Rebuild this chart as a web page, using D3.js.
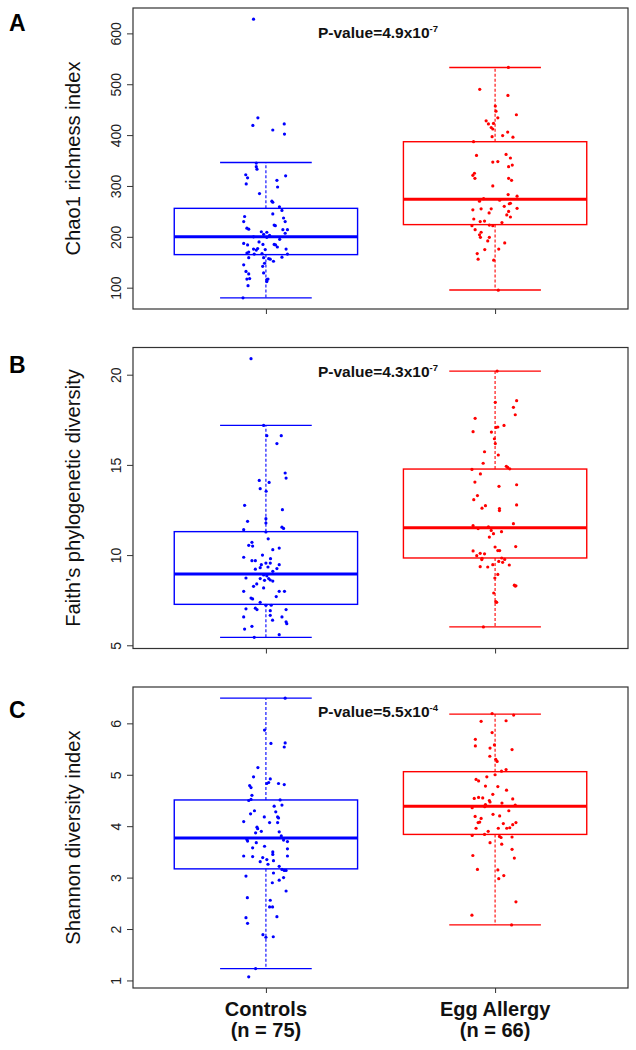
<!DOCTYPE html>
<html>
<head>
<meta charset="utf-8">
<script src="https://cdn.jsdelivr.net/npm/d3@7"></script>
<style>
  html, body { margin: 0; padding: 0; background: #fff; }
  svg { display: block; font-family: Arial, "Liberation Sans", sans-serif; }
</style>
</head>
<body>
<svg id="chart" width="636" height="1050"></svg>
<script>
// ---------------- DATA ----------------
const groups = ["Controls", "Egg Allergy"];
const groupCounts = ["(n = 75)", "(n = 66)"];
const panelLetters = ["A", "B", "C"];
const yTitles = ["Chao1 richness index", "Faith\u2019s phylogenetic diversity", "Shannon diversity index"];
const pMantissa = ["4.9", "4.3", "5.5"];
const pExponent = ["-7", "-7", "-4"];
const yTicksA = [100, 200, 300, 400, 500, 600];
const yTicksB = [5, 10, 15, 20];
const yTicksC = [1, 2, 3, 4, 5, 6];

// box stats: [lower whisker, Q1, median, Q3, upper whisker]
const statsAControls = [80, 165, 200, 256, 346];
const statsAEgg = [95.5, 224, 274, 387, 533];
const statsBControls = [5.44, 7.27, 8.95, 11.30, 17.19];
const statsBEgg = [6.02, 9.84, 11.52, 14.77, 20.2];
const statsCControls = [1.23, 3.17, 3.77, 4.51, 6.49];
const statsCEgg = [2.08, 3.84, 4.39, 5.06, 6.18];

// points: [value, jitter (x offset in category units)]
const chaoControls = [
  [628,-0.054],[434,-0.035],[419,-0.057],[422,0.080],[410,0.030],[402,0.081],[345,-0.042],[338,-0.042],
  [333,-0.039],[322,-0.088],[316,-0.080],[320,0.086],[304,-0.086],[311,0.048],[298,0.051],[285,-0.028],
  [270,0.026],[268,0.030],[259,0.059],[252,0.070],[245,0.030],[240,-0.093],[230,-0.097],[237,0.077],
  [230,0.084],[222,0.041],[223,0.036],[217,-0.083],[215,-0.075],[214,0.074],[214,0.094],[207,0.084],
  [209,0.004],[205,-0.010],[203,0.016],[200,-0.054],[199,0.004],[187,-0.097],[184,-0.080],[185,-0.013],
  [185,0.036],[184,0.042],[176,-0.054],[177,-0.036],[174,-0.042],[175,-0.003],[170,-0.075],[176,0.088],
  [166,0.094],[168,-0.083],[166,-0.051],[167,-0.017],[159,-0.075],[159,-0.010],[156,0.019],[157,0.012],
  [152,0.033],[145,-0.097],[142,-0.014],[148,-0.006],[132,-0.087],[127,-0.075],[129,-0.010],[118,-0.071],
  [117,-0.083],[117,0.009],[116,0.004],[112,0.004],[104,-0.078],[80,-0.100],[195,0.060],[190,-0.030],
  [180,0.050],[210,-0.020],[160,0.070]
];
const chaoEgg = [
  [533,0.058],[490,-0.067],[478,0.056],[457,0.001],[447,0.004],[440,0.093],[428,-0.039],[434,0.012],
  [422,-0.029],[423,-0.007],[415,-0.017],[412,-0.010],[406,0.055],[397,-0.013],[399,0.033],[396,0.078],
  [387,-0.094],[360,-0.081],[362,0.048],[355,0.067],[347,-0.010],[348,0.012],[341,0.075],[338,0.059],
  [325,-0.090],[321,-0.097],[315,-0.088],[315,0.059],[311,0.072],[283,0.057],[280,0.096],[270,-0.068],
  [266,0.067],[265,0.062],[253,-0.097],[255,-0.061],[255,-0.017],[247,-0.026],[256,0.096],[250,0.059],
  [243,0.051],[239,0.067],[235,-0.093],[230,-0.065],[231,-0.046],[223,-0.025],[222,-0.010],[222,-0.101],
  [214,-0.087],[209,-0.061],[204,-0.068],[199,-0.025],[199,-0.064],[192,-0.032],[188,0.042],[176,0.016],
  [175,-0.045],[167,-0.078],[156,-0.074],[154,-0.006],[95,0.014],[275,-0.050],[272,0.020],[228,0.030],
  [300,-0.010],[260,0.040]
];
const faithControls = [
  [20.89,-0.065],[17.19,-0.010],[16.62,0.004],[16.62,0.067],[16.18,0.048],[14.14,-0.029],[13.68,-0.025],[14.03,0.014],
  [13.54,0.001],[14.55,0.084],[14.27,0.088],[12.76,-0.093],[12.52,0.072],[11.87,-0.080],[12.02,0.000],[11.78,0.000],
  [11.41,-0.097],[11.55,0.070],[11.48,0.077],[11.28,0.000],[10.71,-0.061],[10.54,-0.075],[10.50,-0.058],[10.39,0.058],
  [10.30,0.030],[9.88,-0.097],[9.69,-0.061],[9.69,-0.046],[9.56,0.000],[9.56,0.019],[9.47,-0.020],[9.47,0.058],
  [9.30,-0.025],[9.22,-0.046],[9.25,0.048],[9.34,0.009],[8.90,-0.010],[8.85,0.004],[8.73,-0.087],[8.70,-0.025],
  [8.70,0.012],[8.62,0.019],[8.60,-0.006],[8.56,0.030],[8.27,-0.054],[8.18,-0.010],[7.99,-0.097],[7.99,0.058],
  [7.99,0.081],[7.62,-0.065],[7.57,-0.058],[7.38,-0.025],[7.22,0.000],[7.22,0.023],[7.02,-0.087],[7.06,-0.046],
  [6.98,-0.039],[6.92,0.019],[6.98,0.088],[6.66,0.019],[6.57,-0.097],[6.57,0.070],[6.39,0.029],[6.30,0.088],
  [6.20,0.091],[6.05,-0.061],[5.90,-0.093],[5.59,0.058],[5.44,-0.051],[9.10,0.030],[8.40,-0.040],[9.80,0.020],
  [10.00,-0.015],[7.70,0.045],[10.90,0.010]
];
const faithEgg = [
  [20.20,0.009],[18.56,0.094],[18.19,0.080],[17.78,0.088],[18.47,0.001],[17.58,-0.087],[17.19,0.039],[17.08,0.004],
  [17.10,0.012],[16.84,-0.096],[16.82,-0.016],[16.45,-0.003],[16.18,0.001],[15.73,-0.046],[15.55,0.014],[15.09,-0.052],
  [14.92,0.049],[14.86,0.055],[14.78,0.064],[14.75,-0.101],[14.50,-0.064],[14.05,-0.088],[13.81,0.017],[13.90,0.094],
  [13.30,-0.077],[13.07,-0.093],[12.74,-0.042],[12.60,-0.057],[12.58,0.019],[12.47,0.019],[12.78,0.094],[11.74,0.080],
  [11.63,-0.096],[11.47,-0.074],[11.56,-0.029],[11.37,-0.017],[11.30,0.028],[11.19,-0.007],[11.00,-0.025],[10.47,0.090],
  [10.45,0.000],[10.25,0.012],[10.25,0.020],[10.23,-0.096],[10.10,-0.065],[10.07,-0.046],[9.97,-0.080],[9.82,-0.057],
  [9.75,-0.058],[9.84,0.029],[9.76,0.042],[9.65,0.016],[9.60,0.033],[9.45,0.062],[9.36,-0.065],[9.34,-0.032],
  [9.47,-0.010],[8.93,0.012],[8.73,-0.001],[8.33,0.084],[8.28,0.088],[8.30,0.091],[7.90,-0.006],[7.42,0.003],
  [7.38,0.007],[6.02,-0.051]
];
const shannonControls = [
  [6.49,0.084],[5.87,-0.006],[5.61,0.022],[5.62,0.084],[5.54,0.080],[5.14,-0.035],[4.96,-0.054],[4.79,-0.071],
  [4.75,-0.065],[4.92,0.019],[4.85,0.012],[4.83,0.055],[4.81,0.080],[4.83,0.004],[4.60,-0.061],[4.50,-0.075],
  [4.52,-0.065],[4.51,0.062],[4.41,0.070],[4.39,0.036],[4.28,0.043],[4.18,0.051],[4.16,0.055],[4.24,-0.067],
  [4.18,-0.007],[4.07,0.016],[4.09,-0.097],[4.07,0.051],[3.98,-0.039],[3.95,-0.036],[3.87,-0.045],[3.89,0.058],
  [3.81,0.067],[3.74,-0.083],[3.71,-0.080],[3.73,0.077],[3.70,0.094],[3.68,-0.042],[3.61,-0.006],[3.58,-0.058],
  [3.56,0.094],[3.42,-0.097],[3.41,-0.058],[3.45,0.030],[3.42,0.094],[3.39,-0.014],[3.31,-0.025],[3.35,0.004],
  [3.33,0.033],[3.26,0.009],[3.22,0.058],[3.16,0.070],[3.14,0.080],[3.14,0.088],[3.09,0.033],[3.03,-0.087],
  [3.00,0.077],[2.95,0.058],[2.90,0.028],[2.74,0.088],[2.61,-0.081],[2.56,0.019],[2.43,0.029],[2.43,0.016],
  [2.24,0.048],[2.22,-0.087],[2.11,-0.080],[1.89,-0.013],[1.84,0.000],[1.85,0.032],[1.23,-0.045],[1.07,-0.075],
  [3.50,0.030],[3.90,-0.020],[4.30,-0.050]
];
const shannonEgg = [
  [6.19,-0.013],[6.16,0.081],[6.04,-0.061],[6.05,0.048],[5.82,-0.013],[5.69,-0.086],[5.56,-0.086],[5.58,-0.003],
  [5.52,-0.022],[5.49,0.074],[5.36,-0.023],[5.30,0.003],[5.26,0.009],[5.07,0.028],[5.10,0.048],[4.96,-0.036],
  [4.91,-0.083],[4.88,-0.072],[4.78,-0.042],[4.77,0.012],[4.54,-0.091],[4.56,-0.072],[4.55,-0.054],[4.53,0.077],
  [4.50,-0.025],[4.47,-0.022],[4.42,-0.042],[4.41,0.088],[4.36,-0.100],[4.38,-0.045],[4.23,-0.009],[4.19,-0.087],
  [4.15,-0.061],[4.07,-0.074],[4.08,-0.067],[4.07,0.091],[4.03,0.077],[3.97,0.064],[3.96,0.051],[4.05,0.036],
  [3.96,0.014],[3.96,-0.083],[3.82,-0.100],[3.84,-0.046],[3.80,0.019],[3.78,0.026],[3.79,0.074],[3.68,-0.022],
  [3.65,0.029],[3.55,0.074],[3.43,-0.097],[3.38,0.084],[3.16,-0.077],[3.15,0.012],[3.04,0.038],[2.98,0.016],
  [2.53,0.091],[2.27,-0.101],[2.08,0.072],[4.45,0.030],[4.62,-0.010],[4.30,0.060],[4.20,0.020],[3.90,-0.030],
  [4.70,0.050],[5.00,0.000]
];

const panels = [
  { ticks: yTicksA, stats: [statsAControls, statsAEgg], pts: [chaoControls, chaoEgg] },
  { ticks: yTicksB, stats: [statsBControls, statsBEgg], pts: [faithControls, faithEgg] },
  { ticks: yTicksC, stats: [statsCControls, statsCEgg], pts: [shannonControls, shannonEgg] }
];
const colors = ["#0000ff", "#ff0000"];

// ---------------- LAYOUT ----------------
const svg = d3.select("#chart");
const frameLeft = 133, frameRight = 628, frameH = 301;
const panelTops = [8, 347.5, 687];
const x = d3.scaleLinear().domain([0.42, 2.58]).range([frameLeft, frameRight]);
const boxHalf = 0.4, capHalf = 0.2;

panels.forEach((p, i) => {
  const top = panelTops[i], bottom = top + frameH;
  const all = p.pts[0].concat(p.pts[1]).map(d => d[0]);
  const [mn, mx] = d3.extent(all);
  const pad = (mx - mn) * 0.04;
  const y = d3.scaleLinear().domain([mn - pad, mx + pad]).range([bottom, top]);
  const g = svg.append("g");

  // boxes
  p.stats.forEach((s, gi) => {
    const c = colors[gi], cx = gi + 1;
    const bg = g.append("g").attr("stroke", c).attr("fill", "none");
    bg.append("line").attr("x1", x(cx)).attr("x2", x(cx)).attr("y1", y(s[3])).attr("y2", y(s[4]))
      .attr("stroke-width", 1.1).attr("stroke-dasharray", "3,2");
    bg.append("line").attr("x1", x(cx)).attr("x2", x(cx)).attr("y1", y(s[1])).attr("y2", y(s[0]))
      .attr("stroke-width", 1.1).attr("stroke-dasharray", "3,2");
    [s[0], s[4]].forEach(v => bg.append("line")
      .attr("x1", x(cx - capHalf)).attr("x2", x(cx + capHalf)).attr("y1", y(v)).attr("y2", y(v))
      .attr("stroke-width", 1.4));
    bg.append("rect").attr("x", x(cx - boxHalf)).attr("width", x(cx + boxHalf) - x(cx - boxHalf))
      .attr("y", y(s[3])).attr("height", y(s[1]) - y(s[3])).attr("stroke-width", 1.4);
    bg.append("line").attr("x1", x(cx - boxHalf)).attr("x2", x(cx + boxHalf))
      .attr("y1", y(s[2])).attr("y2", y(s[2])).attr("stroke-width", 3);
  });

  // points
  p.pts.forEach((arr, gi) => {
    g.append("g").selectAll("circle").data(arr).join("circle")
      .attr("cx", d => x(gi + 1 + d[1])).attr("cy", d => y(d[0]))
      .attr("r", 1.6).attr("fill", colors[gi]);
  });

  // frame
  g.append("rect").attr("x", frameLeft).attr("y", top).attr("width", frameRight - frameLeft)
    .attr("height", frameH).attr("fill", "none").attr("stroke", "#333").attr("stroke-width", 1.2);

  // y axis
  const ya = g.append("g").attr("transform", `translate(${frameLeft},0)`)
    .call(d3.axisLeft(y).tickValues(p.ticks).tickSize(6).tickSizeOuter(0).tickFormat(d3.format("d")));
  ya.select(".domain").remove();
  ya.selectAll(".tick line").attr("stroke", "#333").attr("stroke-width", 1);
  ya.selectAll(".tick text")
    .attr("x", null).attr("dy", null)
    .attr("transform", "translate(-12.5,0) rotate(-90)")
    .attr("text-anchor", "middle")
    .attr("font-size", 14).attr("fill", "#222")
    .attr("font-family", "Arial, 'Liberation Sans', sans-serif");

  // x axis ticks
  const xa = g.append("g").attr("transform", `translate(0,${bottom})`)
    .call(d3.axisBottom(x).tickValues([1, 2]).tickSize(5).tickFormat(""));
  xa.select(".domain").remove();
  xa.selectAll(".tick line").attr("stroke", "#333").attr("stroke-width", 1);

  // y title
  g.append("text")
    .attr("transform", `translate(79.5,${top + frameH / 2}) rotate(-90)`)
    .attr("text-anchor", "middle").attr("font-size", 20.2).attr("fill", "#111")
    .text(yTitles[i]);

  // panel letter
  g.append("text").attr("x", 9).attr("y", top + 23 + (i === 0 ? 0 : (i === 1 ? 2 : 8)))
    .attr("font-size", 23).attr("font-weight", "bold").attr("fill", "#000")
    .text(panelLetters[i]);

  // p-value
  const pt = g.append("text").attr("x", 318).attr("y", top + 29.5)
    .attr("font-size", 15.5).attr("font-weight", "bold").attr("fill", "#111");
  pt.append("tspan").text("P-value=" + pMantissa[i] + "x10");
  pt.append("tspan").attr("font-size", 9.5).attr("dy", -6).text(pExponent[i]);
});

// category labels
groups.forEach((gname, gi) => {
  svg.append("text").attr("x", x(gi + 1)).attr("y", 1016).attr("text-anchor", "middle")
    .attr("font-size", 20).attr("font-weight", "bold").attr("fill", "#111").text(gname);
  svg.append("text").attr("x", x(gi + 1)).attr("y", 1037).attr("text-anchor", "middle")
    .attr("font-size", 20).attr("font-weight", "bold").attr("fill", "#111").text(groupCounts[gi]);
});
</script>
</body>
</html>
